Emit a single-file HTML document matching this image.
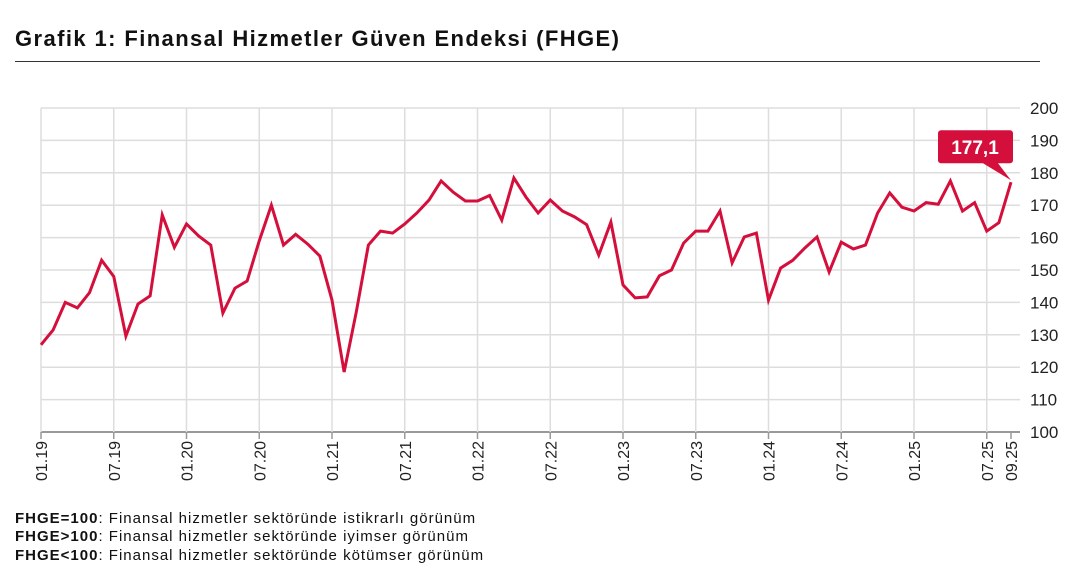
<!DOCTYPE html>
<html><head><meta charset="utf-8"><style>
body{margin:0;background:#fff;font-family:"Liberation Sans",sans-serif;}
#wrap{position:relative;width:1080px;height:580px;overflow:hidden;}
.t{position:absolute;left:15px;top:26px;font-size:22px;letter-spacing:1.4px;font-weight:bold;color:#111;}
.hr{position:absolute;left:15px;top:61px;width:1025px;height:1px;background:#333;}
.note{position:absolute;left:15px;font-size:15px;letter-spacing:1px;color:#111;}
</style></head><body>
<div id="wrap">
<div class="t">Grafik 1: Finansal Hizmetler Güven Endeksi (FHGE)</div>
<div class="hr"></div>
<svg id="svg" width="1080" height="580" style="position:absolute;left:0;top:0"></svg>
<div class="note" style="top:510px"><b>FHGE=100</b>: Finansal hizmetler sektöründe istikrarlı görünüm</div>
<div class="note" style="top:528px"><b>FHGE&gt;100</b>: Finansal hizmetler sektöründe iyimser görünüm</div>
<div class="note" style="top:547px"><b>FHGE&lt;100</b>: Finansal hizmetler sektöründe kötümser görünüm</div>
</div>
<script>
const values=[126.9,131.5,140,138.3,143,153,148,129.6,139.5,142,167,157,164.2,160.5,157.7,136.7,144.4,146.6,159,170,157.7,161,158,154.3,140.7,118.5,137,157.7,162,161.4,164.2,167.6,171.6,177.5,174,171.3,171.3,173,165.4,178.4,172.5,167.6,171.6,168.2,166.4,164,154.6,164.8,145.4,141.4,141.7,148.2,150,158.3,162,162,168.2,152.2,160.2,161.4,140.7,150.6,153,156.8,160.2,149.4,158.6,156.5,157.7,167.6,173.8,169.4,168.2,170.8,170.3,177.5,168.2,170.8,162,164.6,177.1];
const yTicks=[100,110,120,130,140,150,160,170,180,190,200];
const xTickIdx=[0,6,12,18,24,30,36,42,48,54,60,66,72,78,80];
const xTickLabels=["01.19","07.19","01.20","07.20","01.21","07.21","01.22","07.22","01.23","07.23","01.24","07.24","01.25","07.25","09.25"];
const calloutLabel="177,1";
const NS="http://www.w3.org/2000/svg",svg=document.getElementById('svg');
const X0=41,X1=1011,Y0=432,Y1=108;
const x=i=>X0+(X1-X0)*i/(values.length-1);
const y=v=>Y0-(v-100)*(Y0-Y1)/100;
function mk(t,a){const e=document.createElementNS(NS,t);for(const k in a)e.setAttribute(k,a[k]);svg.appendChild(e);return e;}
yTicks.forEach(v=>{
 const l=mk('line',{x1:X0,x2:1020,y1:y(v),y2:y(v),stroke:v===100?'#999':'#ddd','stroke-width':v===100?2:1.5});
 
 
 const t=mk('text',{x:1030,y:y(v)+6,'font-size':17,fill:'#222','font-family':'Liberation Sans'});
 t.textContent=v;
 
 
});
xTickIdx.forEach((i,k)=>{
 if(i<values.length-1){const g=mk('line',{x1:x(i),x2:x(i),y1:Y1,y2:Y0,stroke:'#ddd','stroke-width':1.5});
 
 }
 const tk=mk('line',{x1:x(i),x2:x(i),y1:Y0,y2:Y0+7,stroke:'#999','stroke-width':1.5});
 
 
 const t=mk('text',{x:0,y:0,'font-size':16,fill:'#222','text-anchor':'end','font-family':'Liberation Sans',transform:`translate(${x(i)+6},${Y0+9}) rotate(-90)`});
 t.textContent=xTickLabels[k];
 
 
});
const p=mk('polyline',{points:values.map((v,i)=>x(i)+','+y(v)).join(' '),fill:'none',stroke:'#d50f3c','stroke-width':3,'stroke-linejoin':'miter'});


const lx=x(values.length-1),ly=y(values[values.length-1]);
const c=mk('path',{d:`M${lx-70} ${ly-52} h69 a3 3 0 0 1 3 3 v27 a3 3 0 0 1 -3 3 h-12 L${lx} ${ly-2} L${lx-28} ${ly-19} h-42 a3 3 0 0 1 -3 -3 v-27 a3 3 0 0 1 3 -3z`,fill:'#d50f3c'});


const ct=mk('text',{x:lx-36,y:ly-28,'font-size':19,'font-weight':'bold',fill:'#fff','text-anchor':'middle','font-family':'Liberation Sans'});
ct.textContent=calloutLabel;


</script>
</body></html>
